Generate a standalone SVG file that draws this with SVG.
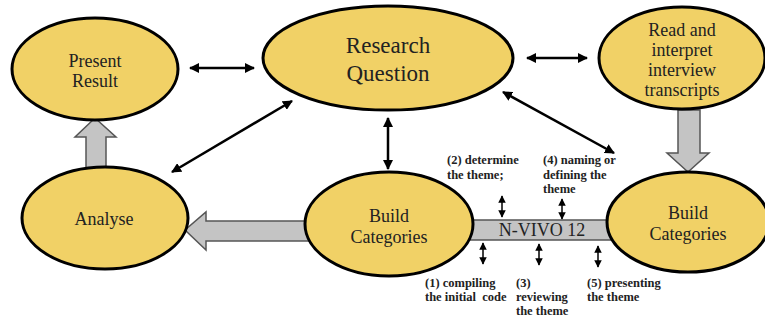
<svg xmlns="http://www.w3.org/2000/svg" width="765" height="320" viewBox="0 0 765 320">
<defs>
<marker id="ah" viewBox="0 0 10 10" refX="9" refY="5" markerWidth="4" markerHeight="4" orient="auto-start-reverse" markerUnits="strokeWidth">
<path d="M0,0 L10,5 L0,10 z" fill="#000"/>
</marker>
<marker id="sh" viewBox="0 0 10 10" refX="9" refY="5" markerWidth="5" markerHeight="6" orient="auto-start-reverse" markerUnits="strokeWidth">
<path d="M0,0 L10,5 L0,10 z" fill="#000"/>
</marker>
</defs>
<style>
.node{fill:#F1D166;stroke:#000;stroke-width:3}
.lbl{font-family:"Liberation Serif","Times New Roman",serif;font-size:18px;fill:#222;text-anchor:middle}
.big{font-size:23px}
.note{font-family:"Liberation Serif","Times New Roman",serif;font-size:12.5px;font-weight:bold;fill:#222}
.blk{stroke:#000;stroke-width:2.5;fill:none;marker-start:url(#ah);marker-end:url(#ah)}
.sm{stroke:#000;stroke-width:1.5;fill:none;marker-start:url(#sh);marker-end:url(#sh)}
.gray{fill:#C4C4C4;stroke:#555;stroke-width:1.5}
</style>
<rect width="765" height="320" fill="#fff"/>
<g id="connectors">
<line class="blk" x1="190" y1="68" x2="254" y2="68"/>
<line class="blk" x1="527" y1="58" x2="587" y2="58"/>
<line class="blk" x1="172" y1="172" x2="292" y2="101"/>
<line class="blk" x1="388" y1="118" x2="388" y2="169"/>
<line class="blk" x1="503" y1="92" x2="614" y2="153"/>
<polygon class="gray" points="86,168 86,137 75,137 95,118 116,137 106,137 106,168"/>
<polygon class="gray" points="678,110 700,110 700,153 709,153 688,172 667,153 678,153"/>
<polygon class="gray" points="320,221 206,221 206,212 185,230 206,250 206,241 320,241"/>
<rect class="gray" x="460" y="220" width="160" height="20" fill="#D4D4D4"/>
<line class="sm" x1="502" y1="196" x2="502" y2="217"/>
<line class="sm" x1="562" y1="199" x2="562" y2="219"/>
<line class="sm" x1="483" y1="243" x2="483" y2="264"/>
<line class="sm" x1="539" y1="244" x2="539" y2="265"/>
<line class="sm" x1="598" y1="246" x2="598" y2="267"/>
</g>
<g id="present-result">
<ellipse class="node" cx="95" cy="69" rx="83" ry="51"/>
<text class="lbl" x="95" y="67">Present</text>
<text class="lbl" x="95" y="87">Result</text>
</g>
<g id="research-question">
<ellipse class="node" cx="388" cy="58" rx="125" ry="52"/>
<text class="lbl big" x="388" y="53">Research</text>
<text class="lbl big" x="388" y="81">Question</text>
</g>
<g id="read-interpret">
<ellipse class="node" cx="682" cy="58" rx="83" ry="51"/>
<text class="lbl" x="682" y="36">Read and</text>
<text class="lbl" x="682" y="56">interpret</text>
<text class="lbl" x="682" y="76">interview</text>
<text class="lbl" x="682" y="96">transcripts</text>
</g>
<g id="analyse">
<ellipse class="node" cx="105" cy="218" rx="83" ry="51"/>
<text class="lbl" x="104" y="225">Analyse</text>
</g>
<g id="build-categories-mid">
<ellipse class="node" cx="389" cy="224" rx="84" ry="52"/>
<text class="lbl" x="389" y="222">Build</text>
<text class="lbl" x="389" y="243">Categories</text>
</g>
<g id="build-categories-right">
<ellipse class="node" cx="688" cy="222" rx="81" ry="50"/>
<text class="lbl" x="688" y="219">Build</text>
<text class="lbl" x="688" y="240">Categories</text>
</g>
<g id="nvivo">
<text class="lbl" x="542" y="236">N-VIVO 12</text>
</g>
<g id="notes">
<text class="note" x="447" y="164">(2) determine</text>
<text class="note" x="447" y="179">the theme;</text>
<text class="note" x="543" y="164">(4) naming or</text>
<text class="note" x="543" y="179">defining the</text>
<text class="note" x="543" y="193">theme</text>
<text class="note" x="425" y="287">(1) compiling</text>
<text class="note" x="425" y="301" xml:space="preserve">the initial  code</text>
<text class="note" x="516" y="287">(3)</text>
<text class="note" x="516" y="301">reviewing</text>
<text class="note" x="516" y="315">the theme</text>
<text class="note" x="587" y="287">(5) presenting</text>
<text class="note" x="587" y="301">the theme</text>
</g>
</svg>
